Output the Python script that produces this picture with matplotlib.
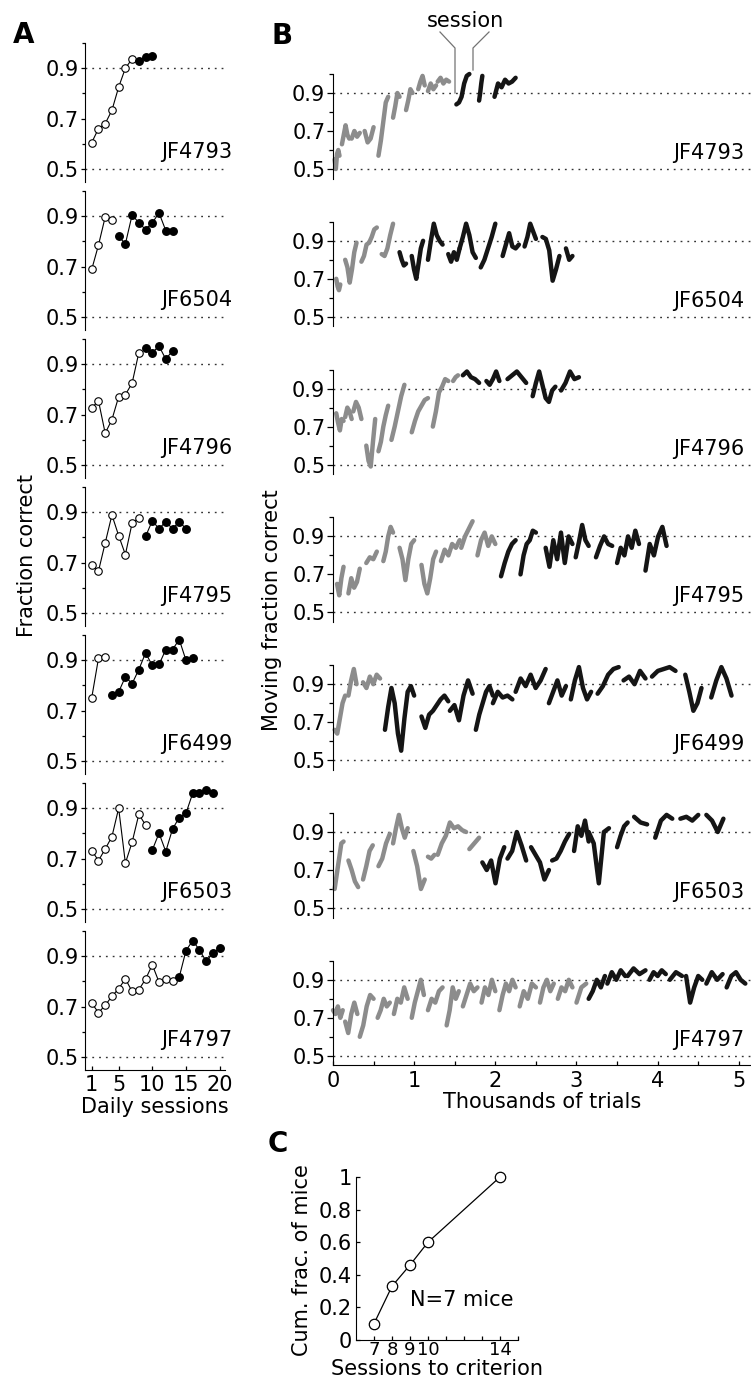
import numpy as np
import matplotlib.pyplot as plt
from matplotlib.ticker import FixedLocator, MultipleLocator
from matplotlib.lines import Line2D

plt.rcParams['font.family'] = ['DejaVu Sans']
plt.rcParams['font.size'] = 15

W, H = 751, 1388

mice = ['JF4793', 'JF6504', 'JF4796', 'JF4795', 'JF6499', 'JF6503', 'JF4797']

# A: daily fraction correct (open = before criterion, filled = after)
a_open = [
    [0.605, 0.66, 0.68, 0.733, 0.825, 0.90, 0.937],
    [0.689, 0.785, 0.897, 0.885],
    [0.726, 0.755, 0.626, 0.68, 0.771, 0.779, 0.825, 0.946],
    [0.692, 0.666, 0.778, 0.889, 0.807, 0.732, 0.857, 0.876],
    [0.751, 0.907, 0.912],
    [0.732, 0.692, 0.738, 0.787, 0.90, 0.682, 0.765, 0.876, 0.833],
    [0.714, 0.676, 0.705, 0.741, 0.771, 0.81, 0.76, 0.767, 0.809, 0.866, 0.797, 0.81, 0.80],
]
a_filled = [
    [0.93, 0.945, 0.948],
    [0.82, 0.79, 0.905, 0.874, 0.847, 0.874, 0.913, 0.843, 0.84],
    [0.966, 0.946, 0.972, 0.92, 0.953],
    [0.804, 0.866, 0.834, 0.863, 0.834, 0.863, 0.834],
    [0.762, 0.774, 0.834, 0.807, 0.863, 0.929, 0.879, 0.883, 0.942, 0.942, 0.982, 0.90, 0.907],
    [0.734, 0.801, 0.728, 0.817, 0.863, 0.880, 0.959, 0.959, 0.972, 0.959],
    [0.817, 0.922, 0.962, 0.925, 0.88, 0.912, 0.932],
]

# B: moving fraction correct, one (start, end, values) per session, x in thousands of trials
b_pre = [
    [(0.02, 0.08, [0.55, 0.50, 0.58, 0.60, 0.57]),
     (0.11, 0.20, [0.63, 0.68, 0.73, 0.68, 0.66]),
     (0.23, 0.33, [0.66, 0.70, 0.67, 0.69]),
     (0.39, 0.50, [0.70, 0.64, 0.66, 0.72]),
     (0.56, 0.68, [0.57, 0.65, 0.75, 0.85, 0.88]),
     (0.74, 0.82, [0.77, 0.83, 0.90, 0.88]),
     (0.90, 0.98, [0.81, 0.86, 0.92, 0.90]),
     (1.05, 1.13, [0.92, 0.96, 0.99, 0.94]),
     (1.17, 1.27, [0.91, 0.95, 0.92, 0.94]),
     (1.29, 1.43, [0.96, 0.98, 0.95, 0.97, 0.96])],
    [(0.04, 0.09, [0.70, 0.66, 0.64, 0.67]),
     (0.15, 0.29, [0.80, 0.76, 0.68, 0.75, 0.84, 0.89]),
     (0.35, 0.54, [0.79, 0.82, 0.88, 0.89, 0.92, 0.96, 0.97]),
     (0.60, 0.74, [0.83, 0.82, 0.86, 0.93, 0.99])],
    [(0.04, 0.13, [0.77, 0.72, 0.68, 0.74, 0.73]),
     (0.15, 0.23, [0.75, 0.80, 0.78, 0.74]),
     (0.25, 0.35, [0.78, 0.83, 0.80, 0.74]),
     (0.41, 0.52, [0.60, 0.52, 0.49, 0.62, 0.74]),
     (0.56, 0.68, [0.57, 0.62, 0.70, 0.76, 0.81]),
     (0.72, 0.88, [0.63, 0.70, 0.78, 0.86, 0.92]),
     (0.97, 1.17, [0.67, 0.73, 0.78, 0.81, 0.84, 0.85]),
     (1.23, 1.42, [0.70, 0.78, 0.88, 0.91, 0.95, 0.94]),
     (1.48, 1.54, [0.94, 0.96, 0.97])],
    [(0.05, 0.13, [0.65, 0.59, 0.68, 0.74]),
     (0.19, 0.33, [0.60, 0.68, 0.63, 0.66, 0.73]),
     (0.41, 0.54, [0.76, 0.79, 0.78, 0.82]),
     (0.62, 0.74, [0.77, 0.82, 0.90, 0.95, 0.92]),
     (0.82, 1.00, [0.84, 0.78, 0.67, 0.78, 0.86, 0.88]),
     (1.09, 1.27, [0.75, 0.65, 0.60, 0.68, 0.78, 0.82]),
     (1.33, 1.56, [0.77, 0.83, 0.80, 0.86, 0.84, 0.88]),
     (1.58, 1.72, [0.84, 0.90, 0.94, 0.98]),
     (1.78, 2.00, [0.80, 0.88, 0.92, 0.85, 0.90, 0.86])],
    [(0.02, 0.15, [0.66, 0.64, 0.72, 0.80, 0.84]),
     (0.19, 0.29, [0.84, 0.92, 0.98, 0.90]),
     (0.37, 0.58, [0.91, 0.88, 0.94, 0.90, 0.95, 0.93])],
    [(0.02, 0.13, [0.60, 0.68, 0.76, 0.84, 0.85]),
     (0.19, 0.31, [0.75, 0.70, 0.64, 0.61]),
     (0.37, 0.49, [0.65, 0.72, 0.80, 0.83]),
     (0.56, 0.70, [0.72, 0.76, 0.84, 0.89]),
     (0.74, 0.92, [0.84, 0.92, 0.99, 0.92, 0.87, 0.92]),
     (0.99, 1.13, [0.80, 0.72, 0.60, 0.65]),
     (1.17, 1.25, [0.77, 0.76, 0.78]),
     (1.29, 1.64, [0.78, 0.84, 0.88, 0.95, 0.92, 0.93, 0.91, 0.90]),
     (1.68, 1.80, [0.81, 0.84, 0.87])],
    [(0.00, 0.12, [0.74, 0.72, 0.76, 0.70, 0.74]),
     (0.15, 0.30, [0.68, 0.62, 0.72, 0.78, 0.72]),
     (0.33, 0.50, [0.60, 0.66, 0.76, 0.82, 0.80]),
     (0.55, 0.70, [0.70, 0.74, 0.80, 0.76, 0.78]),
     (0.75, 0.92, [0.72, 0.80, 0.78, 0.86, 0.80]),
     (0.97, 1.12, [0.70, 0.78, 0.84, 0.90, 0.82]),
     (1.17, 1.35, [0.74, 0.80, 0.78, 0.84, 0.86]),
     (1.40, 1.55, [0.66, 0.74, 0.86, 0.80, 0.84]),
     (1.60, 1.78, [0.76, 0.82, 0.88, 0.84, 0.86]),
     (1.83, 2.00, [0.78, 0.86, 0.82, 0.90, 0.84]),
     (2.05, 2.25, [0.74, 0.82, 0.88, 0.84, 0.90, 0.86]),
     (2.30, 2.50, [0.76, 0.84, 0.80, 0.88, 0.86]),
     (2.55, 2.72, [0.78, 0.86, 0.90, 0.84, 0.88]),
     (2.77, 2.95, [0.80, 0.86, 0.84, 0.90, 0.86]),
     (3.00, 3.12, [0.78, 0.86, 0.88])],
]
b_post = [
    [(1.52, 1.68, [0.84, 0.85, 0.88, 0.95, 0.99, 1.0]),
     (1.80, 1.84, [0.86, 0.90, 0.95, 0.99]),
     (1.99, 2.25, [0.88, 0.95, 0.93, 0.97, 0.95, 0.96, 0.98])],
    [(0.82, 0.90, [0.84, 0.80, 0.77, 0.78]),
     (0.97, 1.11, [0.82, 0.75, 0.70, 0.78, 0.86, 0.90]),
     (1.17, 1.35, [0.80, 0.90, 0.99, 0.93, 0.90, 0.88]),
     (1.42, 1.56, [0.83, 0.79, 0.84, 0.80, 0.86]),
     (1.56, 1.76, [0.86, 0.92, 0.99, 0.93, 0.84, 0.81]),
     (1.82, 2.00, [0.76, 0.80, 0.86, 0.92, 0.99]),
     (2.09, 2.29, [0.82, 0.88, 0.94, 0.87, 0.86, 0.88]),
     (2.36, 2.50, [0.87, 0.92, 0.99, 0.95, 0.91]),
     (2.58, 2.79, [0.92, 0.91, 0.85, 0.69, 0.75, 0.82]),
     (2.87, 2.95, [0.86, 0.80, 0.82])],
    [(1.60, 1.80, [0.97, 0.99, 0.96, 0.95, 0.93]),
     (1.89, 2.05, [0.94, 0.92, 0.95, 0.99, 0.94]),
     (2.15, 2.38, [0.95, 0.97, 0.99, 0.96, 0.93]),
     (2.46, 2.74, [0.86, 0.93, 0.99, 0.92, 0.85, 0.83, 0.89, 0.91]),
     (2.81, 3.03, [0.89, 0.93, 0.99, 0.95, 0.96])],
    [(2.07, 2.25, [0.69, 0.76, 0.82, 0.86, 0.88]),
     (2.31, 2.50, [0.70, 0.80, 0.86, 0.88, 0.93, 0.92]),
     (2.62, 2.95, [0.84, 0.74, 0.88, 0.78, 0.92, 0.76, 0.90, 0.86]),
     (2.99, 3.15, [0.79, 0.87, 0.96, 0.88, 0.85]),
     (3.24, 3.44, [0.79, 0.85, 0.90, 0.86, 0.85]),
     (3.50, 3.77, [0.76, 0.84, 0.80, 0.90, 0.84, 0.93, 0.86]),
     (3.85, 4.11, [0.72, 0.86, 0.80, 0.90, 0.95, 0.85])],
    [(0.64, 1.00, [0.66, 0.78, 0.88, 0.80, 0.64, 0.55, 0.72, 0.86, 0.89, 0.84]),
     (1.09, 1.42, [0.73, 0.67, 0.74, 0.76, 0.79, 0.82, 0.84, 0.81]),
     (1.44, 1.72, [0.76, 0.79, 0.71, 0.84, 0.92, 0.85]),
     (1.76, 1.97, [0.66, 0.74, 0.80, 0.86, 0.89, 0.84]),
     (1.97, 2.21, [0.80, 0.86, 0.83, 0.84, 0.82]),
     (2.25, 2.62, [0.86, 0.93, 0.89, 0.95, 0.88, 0.92, 0.98]),
     (2.66, 2.87, [0.80, 0.86, 0.92, 0.84, 0.89]),
     (2.93, 3.18, [0.82, 0.92, 0.99, 0.88, 0.82, 0.86]),
     (3.26, 3.52, [0.85, 0.89, 0.95, 0.98, 0.99]),
     (3.58, 3.85, [0.92, 0.94, 0.90, 0.97, 0.93]),
     (3.93, 4.22, [0.94, 0.97, 0.98, 0.99, 0.97]),
     (4.34, 4.54, [0.95, 0.86, 0.76, 0.80, 0.88]),
     (4.66, 4.91, [0.83, 0.92, 0.99, 0.93, 0.84])],
    [(1.84, 2.11, [0.74, 0.70, 0.75, 0.63, 0.76, 0.82]),
     (2.15, 2.38, [0.76, 0.80, 0.90, 0.83, 0.75]),
     (2.44, 2.66, [0.82, 0.78, 0.74, 0.65, 0.70]),
     (2.70, 2.91, [0.75, 0.76, 0.80, 0.85, 0.89]),
     (2.97, 3.15, [0.80, 0.93, 0.88, 0.96, 0.85]),
     (3.15, 3.40, [0.90, 0.84, 0.63, 0.90, 0.92]),
     (3.50, 3.63, [0.82, 0.88, 0.93, 0.95]),
     (3.71, 3.87, [0.98, 0.95, 0.94]),
     (3.97, 4.18, [0.87, 0.96, 0.99, 0.97]),
     (4.28, 4.50, [0.97, 0.98, 0.96, 0.99]),
     (4.60, 4.81, [0.99, 0.96, 0.90, 0.97])],
    [(3.15, 3.35, [0.80, 0.84, 0.90, 0.86, 0.92]),
     (3.38, 3.60, [0.88, 0.94, 0.90, 0.95, 0.92]),
     (3.63, 3.85, [0.92, 0.96, 0.93, 0.95]),
     (3.90, 4.10, [0.90, 0.94, 0.92, 0.95, 0.93]),
     (4.15, 4.30, [0.90, 0.94, 0.92]),
     (4.35, 4.55, [0.92, 0.78, 0.86, 0.92, 0.90]),
     (4.60, 4.80, [0.88, 0.94, 0.90, 0.93]),
     (4.85, 5.08, [0.86, 0.92, 0.94, 0.90, 0.88])],
]

# C: sessions to criterion
crit_sessions = [7, 8, 9, 10, 14]
cum_frac = [0.1, 0.33, 0.46, 0.6, 1.0]

dot_style = dict(color='0.2', lw=1.0, ls=(0, (1.3, 3.6)), zorder=0)
GRAY = '#8c8c8c'
BLACK = '#151515'

fig = plt.figure(figsize=(W / 100, H / 100), dpi=100)


def add_ax(left, top, w, h):
    return fig.add_axes([left / W, 1 - (top + h) / H, w / W, h / H])


def style_left(ax, last):
    for s in ['top', 'right']:
        ax.spines[s].set_visible(False)
    if not last:
        ax.spines['bottom'].set_visible(False)
        ax.set_xticks([])
    ax.set_ylim(0.45, 1.0)
    ax.yaxis.set_major_locator(FixedLocator([0.5, 0.7, 0.9]))
    ax.yaxis.set_minor_locator(FixedLocator([0.6, 0.8, 1.0]))
    ax.set_yticklabels(['0.5', '0.7', '0.9'])
    ax.axhline(0.9, **dot_style)
    ax.axhline(0.5, **dot_style)


# ---- panel A ----
for k, name in enumerate(mice):
    ax = add_ax(85, 43 + 148 * k, 140, 138.6)
    last = k == len(mice) - 1
    style_left(ax, last)
    ax.set_xlim(0, 20.8)
    ax.tick_params(axis='y', which='major', direction='out', length=3, width=0.9, pad=1.5)
    ax.tick_params(axis='y', which='minor', direction='out', length=2, width=0.9)
    n_open = len(a_open[k])
    xo = np.arange(1, n_open + 1)
    xf = np.arange(n_open + 1, n_open + 1 + len(a_filled[k]))
    ax.plot(xo, a_open[k], '-o', color='k', lw=0.8, ms=5.4, mfc='white', mec='k', mew=0.8, clip_on=False)
    ax.plot(xf, a_filled[k], '-o', color='k', lw=0.8, ms=5.4, mfc='k', mec='k', clip_on=False)
    ax.text(1.05, 0.21, name, transform=ax.transAxes, ha='right', va='center')
    if last:
        ax.set_xticks([1, 5, 10, 15, 20])
        ax.tick_params(axis='x', direction='in', length=3, width=0.9, pad=4)
        ax.set_xlabel('Daily sessions', labelpad=1)

fig.text(27 / W, 1 - 556 / H, 'Fraction correct', rotation=90, ha='center', va='center')

# ---- panel B ----
for k, name in enumerate(mice):
    y09 = 93 + 147.8 * k
    ax = add_ax(333, y09 - 19, 418, 104.5)
    last = k == len(mice) - 1
    style_left(ax, last)
    ax.set_xlim(0, 5.15)
    ax.tick_params(axis='y', which='major', direction='out', length=4.5, width=0.9, pad=1)
    ax.tick_params(axis='y', which='minor', direction='out', length=3, width=0.9)
    for segs, col in [(b_pre[k], GRAY), (b_post[k], BLACK)]:
        for x0, x1, vals in segs:
            xs = np.linspace(x0, x1, len(vals))
            ax.plot(xs, vals, color=col, lw=3.2, solid_capstyle='round',
                    solid_joinstyle='round', clip_on=False)
    ax.text(0.985, 0.244, name, transform=ax.transAxes, ha='right', va='center')
    if last:
        ax.xaxis.set_major_locator(MultipleLocator(1))
        ax.xaxis.set_minor_locator(MultipleLocator(0.5))
        ax.tick_params(axis='x', which='both', direction='in', length=3, width=0.9, pad=4)
        ax.set_xlabel('Thousands of trials', labelpad=1)

fig.text(272 / W, 1 - 610 / H, 'Moving fraction correct', rotation=90, ha='center', va='center')

# "session" bracket
fig.text(465 / W, 1 - 21 / H, 'session', ha='center', va='center')
for pts in [[(440, 32), (455, 48), (455, 93)], [(489, 32), (473, 48), (473, 70)]]:
    xs = [p[0] / W for p in pts]
    ys = [1 - p[1] / H for p in pts]
    fig.add_artist(Line2D(xs, ys, color='0.45', lw=0.9))

# ---- panel C ----
axc = add_ax(356, 1177, 162, 163)
for s in ['top', 'right']:
    axc.spines[s].set_visible(False)
axc.plot(crit_sessions, cum_frac, '-o', color='k', lw=0.9, ms=7.5, mfc='white', mec='k', mew=0.9, clip_on=False)
axc.set_xlim(6, 15)
axc.set_ylim(0, 1)
axc.xaxis.set_major_locator(FixedLocator([7, 8, 9, 10, 14]))
axc.xaxis.set_minor_locator(FixedLocator([11, 12, 13, 15]))
axc.set_xticklabels(['7', '8', '9', '10', '14'])
axc.set_yticks([0, 0.2, 0.4, 0.6, 0.8, 1.0])
axc.set_yticklabels(['0', '0.2', '0.4', '0.6', '0.8', '1'])
axc.tick_params(axis='both', which='both', direction='in', length=3, width=0.9, pad=3)
axc.tick_params(axis='x', which='both', pad=1, labelsize=13)
axc.set_xlabel('Sessions to criterion', labelpad=0)
fig.text(302 / W, 1 - 1260 / H, 'Cum. frac. of mice', rotation=90, ha='center', va='center')
axc.text(11.9, 0.245, 'N=7 mice', ha='center', va='center')

# panel letters
for letter, (px, py) in {'A': (24, 35), 'B': (282, 36), 'C': (278, 1144)}.items():
    fig.text(px / W, 1 - py / H, letter, fontsize=20, fontweight='bold', ha='center', va='center')

fig.savefig('out.png', dpi=100)
